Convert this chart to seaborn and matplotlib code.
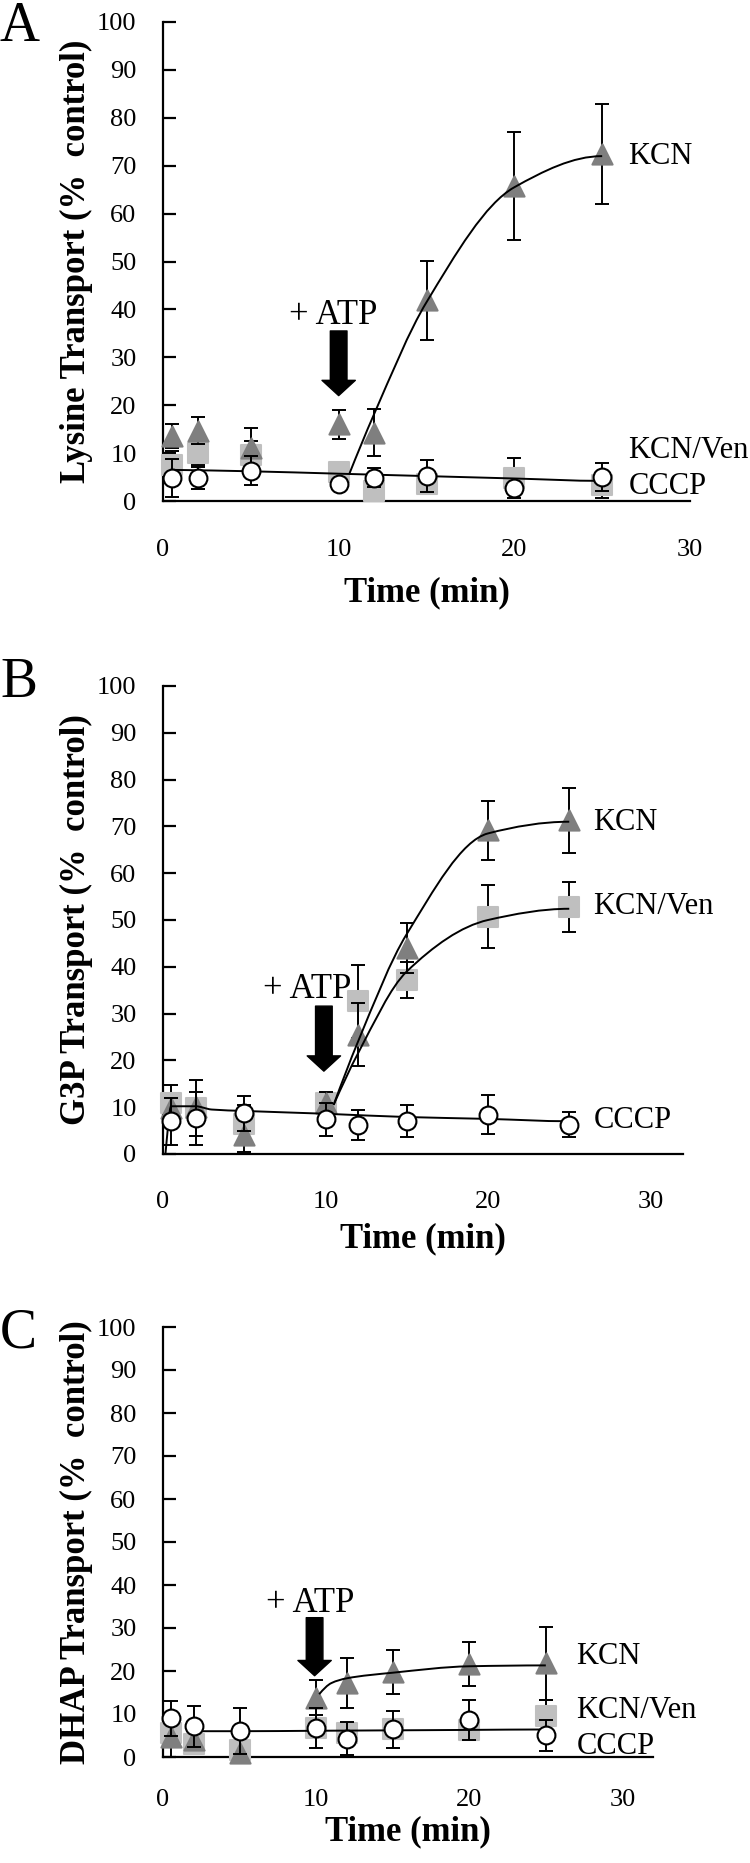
import numpy as np
import pandas as pd
import matplotlib
matplotlib.use("Agg")
import matplotlib.pyplot as plt
import seaborn as sns
from matplotlib.path import Path
from matplotlib.patches import PathPatch

# ---------------- data ----------------
time = [0.5, 2, 5, 10, 12, 15, 20, 25]

# Panel A : Lysine
a_kcn = [13.5, 14.7, 11.0, 16.0, 14.3, 41.9, 65.8, 72.4]
a_kcn_err = [2.5, 2.8, 4.2, 3.0, 5.0, 8.2, 11.3, 10.5]
a_ven = [7.5, 10.0, 9.5, 6.0, 2.0, 3.5, 4.8, 3.3]
a_ven_err = [3.0, 2.5, 3.0, 0.0, 0.0, 1.8, 4.2, 2.7]
a_cccp = [4.8, 4.8, 6.3, 3.5, 4.9, 5.2, 2.7, 5.0]
a_cccp_err = [4.0, 2.2, 3.0, 0.0, 1.9, 3.3, 0.0, 3.0]
a_fit_kcn_x = [10.6, 12, 15, 20, 25]
a_fit_kcn_y = [5.6, 18.0, 41.5, 65.5, 72.0]
a_fit_cccp_x = [0.5, 5, 10, 15, 20, 25]
a_fit_cccp_y = [6.5, 6.2, 5.7, 5.2, 4.7, 4.2]

# Panel B : G3P
b_kcn = [9.8, 10.0, 4.0, 10.8, 25.5, 44.0, 69.2, 71.3]
b_kcn_err = [0.0, 0.0, 3.6, 2.5, 6.8, 5.4, 6.3, 7.0]
b_ven = [11.0, 9.9, 6.4, 10.8, 32.6, 37.2, 50.7, 52.8]
b_ven_err = [3.8, 6.0, 4.0, 2.0, 7.8, 3.8, 6.7, 5.3]
b_cccp = [7.0, 7.6, 8.7, 7.4, 6.1, 7.0, 8.4, 6.3]
b_cccp_err = [5.0, 5.7, 3.7, 3.6, 3.2, 3.4, 4.2, 2.7]
b_fit_kcn_x = [10.5, 12, 15, 20, 25]
b_fit_kcn_y = [10.5, 24.0, 47.0, 68.5, 71.0]
b_fit_ven_x = [10.5, 12, 15, 20, 25]
b_fit_ven_y = [10.5, 21.5, 39.0, 50.0, 52.4]
b_fit_cccp_x = [0.15, 0.5, 2, 3, 5, 10, 15, 20, 25]
b_fit_cccp_y = [0.0, 10.2, 10.2, 9.5, 9.2, 8.6, 7.9, 7.5, 7.0]

# Panel C : DHAP
c_kcn = [4.7, 3.9, 0.9, 13.8, 17.2, 19.8, 21.6, 21.8]
c_kcn_err = [4.7, 0.0, 0.0, 4.0, 5.9, 5.1, 5.1, 8.5]
c_ven = [5.6, 3.1, 1.7, 6.7, 5.6, 6.6, 6.3, 9.5]
c_ven_err = [0.0, 0.0, 0.0, 0.0, 0.0, 0.0, 0.0, 3.8]
c_cccp = [9.0, 7.1, 6.1, 6.7, 4.3, 6.5, 8.6, 5.1]
c_cccp_err = [4.0, 4.7, 5.4, 4.6, 3.8, 4.3, 4.7, 3.6]
c_fit_kcn_x = [10.2, 11, 12, 15, 20, 25]
c_fit_kcn_y = [14.6, 17.2, 18.3, 19.6, 21.1, 21.3]
c_fit_cccp_x = [2, 5, 10, 15, 20, 25]
c_fit_cccp_y = [6.0, 6.0, 6.1, 6.2, 6.3, 6.4]

panels = [
    dict(letter="A", ylabel="Lysine Transport (%  control)", xmax=30,
         kcn=a_kcn, kcn_err=a_kcn_err, ven=a_ven, ven_err=a_ven_err,
         cccp=a_cccp, cccp_err=a_cccp_err,
         fits=[(a_fit_kcn_x, a_fit_kcn_y), (a_fit_cccp_x, a_fit_cccp_y)],
         labels=[(26.5, 72.0, "KCN"), (26.5, 10.5, "KCN/Ven"), (26.5, 3.1, "CCCP")],
         atp_text=(9.7, 38.8), arrow=(10.0, 35.5, 22.0)),
    dict(letter="B", ylabel="G3P Transport (%  control)", xmax=32,
         kcn=b_kcn, kcn_err=b_kcn_err, ven=b_ven, ven_err=b_ven_err,
         cccp=b_cccp, cccp_err=b_cccp_err,
         fits=[(b_fit_kcn_x, b_fit_kcn_y), (b_fit_ven_x, b_fit_ven_y),
               (b_fit_cccp_x, b_fit_cccp_y)],
         labels=[(26.5, 70.8, "KCN"), (26.5, 52.8, "KCN/Ven"), (26.5, 7.1, "CCCP")],
         atp_text=(8.9, 35.1), arrow=(9.9, 31.6, 17.7)),
    dict(letter="C", ylabel="DHAP Transport (%  control)", xmax=32,
         kcn=c_kcn, kcn_err=c_kcn_err, ven=c_ven, ven_err=c_ven_err,
         cccp=c_cccp, cccp_err=c_cccp_err,
         fits=[(c_fit_kcn_x, c_fit_kcn_y), (c_fit_cccp_x, c_fit_cccp_y)],
         labels=[(27.0, 23.4, "KCN"), (27.0, 10.7, "KCN/Ven"), (27.0, 2.5, "CCCP")],
         atp_text=(9.6, 35.7), arrow=(9.9, 32.4, 18.9)),
]

# axes boxes in pixels: left, right, top, bottom
boxes = [(163, 690, 22, 501), (163, 683, 686, 1154), (163, 653, 1327, 1757)]
letter_pos = [27, 683, 1333]
xlab_off = [-0.157, -0.147, -0.135]
xtick_pad = [27, 26.5, 23]

# ---------------- style ----------------
sns.set_theme(style="white")
plt.rcParams["font.family"] = ["Liberation Serif", "DejaVu Serif"]

W, H = 750, 1863
fig = plt.figure(figsize=(W / 100, H / 100), dpi=100)

KCN_C = "#7f7f7f"
VEN_C = "#bfbfbf"


def mono_path(xs, ys):
    xs = np.asarray(xs, float)
    ys = np.asarray(ys, float)
    h = np.diff(xs)
    d = np.diff(ys) / h
    n = len(xs)
    m = np.zeros(n)
    for i in range(1, n - 1):
        if d[i - 1] * d[i] <= 0:
            m[i] = 0
        else:
            w1 = 2 * h[i] + h[i - 1]
            w2 = h[i] + 2 * h[i - 1]
            m[i] = (w1 + w2) / (w1 / d[i - 1] + w2 / d[i])
    if n > 2:
        m[0] = ((2 * h[0] + h[1]) * d[0] - h[0] * d[1]) / (h[0] + h[1])
        if np.sign(m[0]) != np.sign(d[0]):
            m[0] = 0
    else:
        m[0] = d[0]
    m[-1] = 0 if abs(d[-1]) < 1.5 else d[-1] * 0.3
    verts = [(xs[0], ys[0])]
    codes = [Path.MOVETO]
    for i in range(n - 1):
        verts += [(xs[i] + h[i] / 3, ys[i] + m[i] * h[i] / 3),
                  (xs[i + 1] - h[i] / 3, ys[i + 1] - m[i + 1] * h[i] / 3),
                  (xs[i + 1], ys[i + 1])]
        codes += [Path.CURVE4] * 3
    return Path(verts, codes)


for k, p in enumerate(panels):
    l, r, t, b = boxes[k]
    ax = fig.add_axes([l / W, 1 - b / H, (r - l) / W, (b - t) / H])
    df = pd.DataFrame({
        "time": time * 3,
        "val": p["ven"] + p["kcn"] + p["cccp"],
        "err": p["ven_err"] + p["kcn_err"] + p["cccp_err"],
        "cond": ["KCN/Ven"] * 8 + ["KCN"] * 8 + ["CCCP"] * 8,
    })
    styles = {
        "KCN/Ven": dict(marker="s", fc=VEN_C, ec=VEN_C, s=190, z=3),
        "KCN": dict(marker="^", fc=KCN_C, ec=KCN_C, s=210, z=4),
        "CCCP": dict(marker="o", fc="white", ec="black", s=165, z=6),
    }
    for cond in ["KCN/Ven", "KCN", "CCCP"]:
        sub = df[df["cond"] == cond]
        st = styles[cond]
        mask = sub["err"] > 0
        ax.errorbar(sub["time"][mask], sub["val"][mask], yerr=sub["err"][mask],
                    fmt="none", ecolor="black", elinewidth=1.4, capsize=5,
                    capthick=1.4, zorder=st["z"] - 0.5, clip_on=False)
        sns.scatterplot(data=sub, x="time", y="val", marker=st["marker"],
                        color=st["fc"], edgecolor=st["ec"], linewidth=1.5,
                        s=st["s"], ax=ax, zorder=st["z"], clip_on=False,
                        legend=False)
    for fx, fy in p["fits"]:
        ax.add_patch(PathPatch(mono_path(fx, fy), fill=False, edgecolor="black",
                               lw=1.4, zorder=5, clip_on=False))

    ax.set_xlim(0, p["xmax"])
    ax.set_ylim(0, 100)
    ax.set_xticks([0, 10, 20, 30])
    ax.set_yticks(range(0, 101, 10))
    sns.despine(ax=ax)
    for s in ["left", "bottom"]:
        ax.spines[s].set_color("black")
        ax.spines[s].set_linewidth(1.6)
    ax.tick_params(axis="y", direction="in", length=9, width=1.6, pad=19,
                   labelsize=19, left=True, colors="black")
    ax.tick_params(axis="x", length=0, pad=xtick_pad[k], labelsize=19,
                   colors="black")
    ax.set_xlabel("Time (min)", fontsize=25, fontweight="bold", color="black")
    ax.set_ylabel(p["ylabel"], fontsize=25, fontweight="bold", color="black")
    ax.xaxis.set_label_coords(0.5, xlab_off[k])
    ax.yaxis.set_label_coords((93 - l) / (r - l), 0.5)

    for x, y, s in p["labels"]:
        ax.text(x, y, s, fontsize=22, ha="left", va="center", color="black",
                clip_on=False)
    ax.text(p["atp_text"][0], p["atp_text"][1], "+ ATP", fontsize=25,
            ha="center", va="center", color="black")
    ax_x, ay0, ay1 = p["arrow"]
    ax.annotate("", xy=(ax_x, ay1), xytext=(ax_x, ay0),
                arrowprops=dict(facecolor="black", edgecolor="black",
                                width=12, headwidth=24, headlength=11, shrink=0),
                zorder=7)
    fig.text(0.0, 1 - letter_pos[k] / H, p["letter"], fontsize=40,
             ha="left", va="center", color="black")

fig.savefig("out.png", dpi=100)
